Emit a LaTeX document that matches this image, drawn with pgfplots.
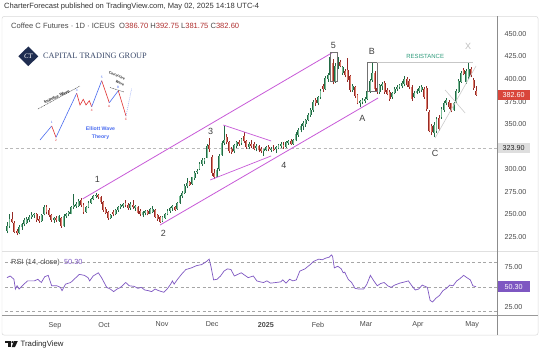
\documentclass[border=0pt]{standalone}
\usepackage{pgfplots}
\pgfplotsset{compat=1.18}
\usepackage{pgfplotstable}
\usepackage{fontspec}
\setmainfont{Liberation Sans}
\newfontfamily\serifcap{Liberation Serif}
\definecolor{upd}{HTML}{226B45}
\definecolor{upl}{HTML}{7CBE98}
\definecolor{dnd}{HTML}{962A26}
\definecolor{dnl}{HTML}{E0806F}
\definecolor{chan}{HTML}{C85AD8}
\definecolor{rsic}{HTML}{7E57C2}
\definecolor{txt}{HTML}{4A4A4A}
\definecolor{navy}{HTML}{1F2D50}
\definecolor{ctg}{HTML}{3B4A6B}
\definecolor{resist}{HTML}{2F9C7C}
\definecolor{valred}{HTML}{B03030}
\definecolor{ewblue}{HTML}{4A6CF0}
\definecolor{ewred}{HTML}{E03030}
\definecolor{pricered}{HTML}{D9463B}
\pgfplotsset{
  colormap={udlight}{color(0)=(dnl) color(1)=(upl)},
  colormap={uddark}{color(0)=(dnd) color(1)=(upd)},
}
\pgfplotstableread{
i o h l c t
0 232 242 229 237 1
1 237 251 235 245 1
2 245 253 240 242 0
3 241 243 229 231 0
4 232 234 227 229 0
5 229 238 228 236 1
6 236 240 233 239 1
7 239 246 237 244 1
8 241 247 239 245 1
9 244 249 242 247 1
10 247 253 245 249 1
11 249 252 246 250 1
12 251 252 242 244 0
13 245 248 241 243 0
14 243 250 242 249 1
15 250 261 249 258 1
16 258 261 250 253 0
17 255 257 247 249 0
18 249 251 242 244 0
19 244 247 241 246 1
20 246 248 242 244 0
21 243 249 242 248 1
22 246 247 235 237 0
23 237 250 236 248 1
24 248 252 246 251 1
25 250 254 248 253 1
26 251 259 250 258 1
27 258 273 256 261 1
28 259 264 257 262 1
29 259 267 258 265 1
30 266 268 258 260 0
31 260 263 251 253 0
32 253 259 252 258 1
33 258 265 257 263 1
34 263 268 262 267 1
35 267 272 266 270 1
36 270 274 268 272 1
37 272 273 267 269 0
38 269 270 262 264 0
39 264 265 253 255 0
40 256 258 250 252 0
41 253 254 244 246 0
42 246 251 245 249 1
43 253 255 248 250 0
44 250 256 249 255 1
45 255 259 253 258 1
46 258 262 256 261 1
47 259 263 257 262 1
48 263 266 258 260 0
49 260 263 255 257 0
50 257 264 255 262 1
51 261 266 256 258 0
52 257 260 254 259 1
53 258 259 251 252 0
54 254 256 248 250 0
55 249 254 247 253 1
56 252 255 249 254 1
57 254 255 249 250 0
58 251 257 250 256 1
59 253 259 252 256 1
60 255 256 246 247 0
61 249 250 243 245 0
62 247 248 241 242 0
63 243 248 242 247 1
64 246 252 245 251 1
65 251 256 249 254 1
66 254 258 252 257 1
67 257 260 254 259 1
68 258 259 254 255 0
69 256 264 255 263 1
70 263 271 262 270 1
71 270 276 268 274 1
72 274 284 273 282 1
73 282 290 279 285 1
74 286 287 282 283 0
75 284 292 283 291 1
76 290 298 288 296 1
77 297 300 295 298 1
78 300 308 299 306 1
79 306 312 304 310 1
80 309 313 306 311 1
81 313 328 312 326 1
82 327 335 319 322 0
83 314 316 293 296 0
84 296 300 289 292 0
85 292 301 291 299 1
86 300 317 298 315 1
87 316 331 315 329 1
88 329 348 327 332 1
89 336 339 328 330 0
90 330 331 318 320 0
91 322 325 317 319 0
92 320 328 318 327 1
93 326 331 324 330 1
94 330 333 326 328 0
95 329 335 327 334 1
96 337 341 329 331 0
97 331 333 323 325 0
98 325 330 322 328 1
99 328 332 324 326 0
100 328 330 321 323 0
101 324 328 320 326 1
102 326 327 319 321 0
103 323 325 318 320 0
104 320 323 315 322 1
105 321 326 320 325 1
106 325 327 320 322 0
107 322 325 319 323 1
108 323 327 320 321 0
109 322 326 318 325 1
110 324 328 322 327 1
111 326 330 324 328 1
112 327 330 323 325 0
113 325 331 324 330 1
114 329 333 327 331 1
115 331 334 327 328 0
116 328 334 327 333 1
117 332 341 331 339 1
118 338 346 336 344 1
119 344 350 341 348 1
120 348 353 344 351 1
121 350 356 347 355 1
122 355 362 353 360 1
123 360 368 358 366 1
124 366 377 364 375 1
125 377 379 370 373 0
126 373 381 371 380 1
127 380 389 378 387 1
128 392 394 386 389 0
129 389 403 388 401 1
130 400 407 397 404 1
131 404 430 402 424 1
132 418 422 394 397 0
133 398 418 396 414 1
134 413 425 411 419 1
135 419 421 413 415 0
136 407 414 405 413 1
137 409 411 402 404 0
138 410 423 397 399 0
139 403 405 386 388 0
140 388 394 386 392 1
141 391 392 379 381 0
142 382 384 372 374 0
143 374 377 369 376 1
144 375 379 372 377 1
145 376 380 373 378 1
146 378 388 377 387 1
147 386 400 385 398 1
148 399 418 397 407 1
149 407 409 386 389 0
150 390 392 384 386 0
151 386 395 384 393 1
152 392 397 388 395 1
153 396 398 384 386 0
154 388 390 382 384 0
155 386 388 376 378 0
156 380 386 378 385 1
157 385 391 383 389 1
158 389 393 387 391 1
159 391 395 389 393 1
160 392 398 390 396 1
161 395 403 392 400 1
162 400 402 391 393 0
163 398 400 389 391 0
164 391 393 376 378 0
165 380 387 379 385 1
166 385 389 383 387 1
167 387 392 385 390 1
168 388 393 386 391 1
169 389 391 378 380 0
170 390 392 365 367 0
171 364 366 341 343 0
172 348 350 338 341 0
173 340 352 336 349 1
174 342 358 340 356 1
175 357 360 343 345 0
176 358 369 356 367 1
177 366 376 364 374 1
178 373 379 371 377 1
179 375 377 367 369 0
180 373 374 363 365 0
181 366 375 365 373 1
182 375 389 374 387 1
183 386 400 385 398 1
184 397 409 396 407 1
185 410 412 404 406 0
186 397 411 395 409 1
187 402 419 400 411 1
188 411 413 402 404 0
189 399 401 388 390 0
190 386.70 392.75 381.75 382.60 0
}\ohlc
\begin{document}
\begin{tikzpicture}
\fill[white] (0,0) rectangle (540bp,357bp);
\path[use as bounding box] (0,0) rectangle (540bp,357bp);
% ---------------- main price panel
\begin{axis}[
  at={(5bp,106bp)}, anchor=south west, scale only axis,
  width=492bp, height=234bp,
  xmin=-0.81, xmax=198.5, ymin=209.5, ymax=468.8,
  axis line style={draw=none}, tick style={draw=none},
  major tick length=0pt,
  xtick=\empty,
  ytick={225,250,275,300,350,375,400,425,450},
  yticklabel pos=right,
  yticklabel style={font=\fontsize{7.2}{8}\selectfont, text=txt, anchor=west, xshift=4bp},
  y tick label style={/pgf/number format/.cd, fixed, fixed zerofill, precision=2, assume math mode=true},
  point meta min=0, point meta max=1,
  clip mode=individual,
]
\addplot[gray!55, line width=0.5bp, dash pattern=on 3bp off 2.5bp, forget plot] coordinates {(-1,323.9) (198.5,323.9)};
% wicks
\addplot[mark=none, colormap name=uddark, point meta=\thisrow{t},
  quiver={u=0, v=\thisrow{h}-\thisrow{l},
    every arrow/.append style={draw=mapped color, line width=0.5bp, -}}]
  table[x=i, y=l] {\ohlc};
% bodies (dark edge)
\addplot[mark=none, colormap name=uddark, point meta=\thisrow{t},
  quiver={u=0, v={abs(\thisrow{c}-\thisrow{o})},
    every arrow/.append style={draw=mapped color, line width=1.9bp, -}}]
  table[x=i, y expr={min(\thisrow{o},\thisrow{c})}] {\ohlc};
% bodies (light core)
\addplot[mark=none, colormap name=udlight, point meta=\thisrow{t},
  quiver={u=0, v={abs(\thisrow{c}-\thisrow{o})},
    every arrow/.append style={draw=mapped color, line width=0.7bp, -}}]
  table[x=i, y expr={min(\thisrow{o},\thisrow{c})}] {\ohlc};
% channel and triangle
\addplot[chan, line width=0.8bp] coordinates {(30.7,267.3) (131.7,429.2)};
\addplot[chan, line width=0.8bp] coordinates {(62.0,238.3) (150.3,379.0)};
\addplot[chan, line width=0.7bp] coordinates {(87.6,349.1) (107,331.4)};
\addplot[chan, line width=0.7bp] coordinates {(82.3,288.2) (107,314.8)};
% boxes, resistance, gray lines
\addplot[black!55, line width=0.5bp] coordinates {(130.9,397.1) (133.9,397.1) (133.9,429.3) (130.9,429.3) (130.9,397.1)};
\addplot[black!55, line width=0.5bp] coordinates {(145.9,386) (149.9,386) (149.9,419) (145.9,419) (145.9,386)};
\addplot[black!22, line width=0.6bp] coordinates {(149.9,418.4) (188.8,418.4)};
\addplot[black!20, line width=0.6bp] coordinates {(173.4,334.7) (190,414.5)};
\addplot[black!20, line width=0.6bp] coordinates {(177.5,387.9) (185.6,362.4)};
% wave labels
\begin{scope}[every node/.style={font=\fontsize{9}{10}\selectfont, text=black!75}]
\node at (axis cs:132.2,437.8) {5};
\node at (axis cs:147.8,430.4) {B};
\node at (axis cs:144.0,356.6) {A};
\node at (axis cs:173.4,317.7) {C};
\node at (axis cs:82.5,341.7) {3};
\node at (axis cs:112.2,304.5) {4};
\node at (axis cs:36.6,288.9) {1};
\node at (axis cs:63.3,229.1) {2};
\end{scope}
\node[font=\fontsize{6}{7}\selectfont, text=resist] at (axis cs:169.4,425.6) {RESISTANCE};
\node[font=\fontsize{9}{10}\selectfont, text=black!25] at (axis cs:186.8,436.5) {X};
% price boxes
\node[anchor=west, fill=pricered, text=white, inner sep=0pt, minimum height=10.5bp, minimum width=33bp, font=\fontsize{7.2}{8}\selectfont] at (axis cs:198.5,382.6) {382.60};
\node[anchor=west, fill=black!13, text=black!85, inner sep=0pt, minimum height=10.5bp, minimum width=33bp, font=\fontsize{7.2}{8}\selectfont] at (axis cs:198.5,323.9) {323.90};
\end{axis}
% ---------------- RSI panel
\begin{axis}[
  at={(5bp,42bp)}, anchor=south west, scale only axis,
  width=492bp, height=64bp,
  xmin=-0.81, xmax=198.5, ymin=15.5, ymax=94.3,
  axis line style={draw=none}, tick style={draw=none},
  major tick length=0pt,
  xtick={19.4,39.3,62.8,83.1,104.9,126,145.5,166.5,188.4},
  xticklabels={Sep,Oct,Nov,Dec,\textbf{2025},Feb,Mar,Apr,May},
  xticklabel style={font=\fontsize{7.2}{8}\selectfont, text=txt, yshift=-3.5bp},
  ytick={25,75},
  yticklabel pos=right,
  yticklabel style={font=\fontsize{7.2}{8}\selectfont, text=txt, anchor=west, xshift=4bp},
  y tick label style={/pgf/number format/.cd, fixed, fixed zerofill, precision=2, assume math mode=true},
  clip mode=individual,
]
\addplot[gray!70, line width=0.5bp, dash pattern=on 3bp off 2.5bp, forget plot] coordinates {(-1,80) (198.5,80)};
\addplot[gray!70, line width=0.5bp, dash pattern=on 3bp off 2.5bp, forget plot] coordinates {(-1,50) (198.5,50)};
\addplot[gray!70, line width=0.5bp, dash pattern=on 3bp off 2.5bp, forget plot] coordinates {(-1,20) (198.5,20)};
\addplot[rsic, line width=0.7bp] coordinates {
(0,61.5)(1.3,63.5)(2.8,59.5)(3.4,47.5)(4.1,51.5)(4.9,47.5)(6.2,51.5)(8.3,57.5)(11.1,57.5)(12.5,59.5)
(13.9,55.5)(15.3,62.7)(16.7,64.3)(18.1,51.5)(20.2,51.5)(21.6,49.5)(22.3,45.5)(23.7,53.5)(25.8,55.5)(27.2,59.5)
(29.3,65.5)(31.4,64.3)(32.8,61.5)(33.5,57.5)(34.9,63.5)(37,67.5)(38.3,61.5)(39,57.5)(40.4,49.5)(41.8,47.5)
(43.2,44.3)(44.6,47.5)(46,49.5)(48.1,55.5)(49.5,51.5)(51.6,50.7)(53,48.3)(54.4,49.5)(55.8,46.3)(57.2,45.5)
(58.6,44.3)(60,47.5)(61.4,45.5)(63.5,43.5)(64.9,47.5)(66.3,53.5)(67,57.5)(67.7,53.5)(69.1,59.5)(71.2,67.5)
(72.5,71.5)(74.7,73.5)(76.8,76.3)(78.8,77.5)(80.9,81.5)(81.9,84.3)(82.6,75.5)(83.7,58.7)(85.1,59.5)(86.5,63.5)
(87.9,69.5)(89.3,72.3)(90.7,71.5)(92.1,63.5)(93.5,65.5)(94.9,67.5)(96.4,64.3)(97.7,61.5)(99.8,63.5)(101.2,57.5)
(102.6,56.3)(103.9,55.5)(105.3,57.5)(106.8,54.7)(108.9,55.5)(110.9,56.3)(111.7,58.7)(113,54.7)(114.5,59.5)(115.8,57.5)
(117.2,58.7)(118.6,69.5)(120.7,72.3)(122.8,77.5)(124.2,81.5)(126.3,84.3)(127.7,83.5)(129.1,85.5)(130.5,86.7)(131.5,89.5)
(131.9,87.5)(132.6,73.5)(134,75.5)(135.4,72.3)(136.2,67.5)(136.8,68.3)(138.2,59.5)(139.6,55.5)(141,48.3)(142.4,47.5)
(144.5,47.5)(145.8,53.5)(147.2,64.3)(148.6,57.5)(150,51.5)(151.4,54.3)(152.8,55.5)(154.2,51.5)(155.6,49.5)(157,52.3)
(159.1,54.7)(161.2,56.3)(162.6,57.5)(164,51.5)(165.4,46.3)(166.8,47.5)(168.2,52.3)(170.3,49.5)(171.4,33.5)(172.4,31.5)
(173.8,36.3)(175.2,39.5)(176.6,45.5)(178,48.3)(179.4,52.3)(180.7,51.5)(182.2,57.5)(183.5,60.3)(185,64.3)(186.3,61.5)
(187.7,58.7)(188.7,51.5)(190,50.3)};
\node[anchor=west, fill=rsic, text=white, inner sep=0pt, minimum height=10.5bp, minimum width=33bp, font=\fontsize{7.2}{8}\selectfont] at (axis cs:198.5,50.3) {50.30};
\end{axis}
% ---------------- overlay in image pixel coordinates
\begin{axis}[
  at={(0bp,0bp)}, anchor=south west, scale only axis,
  width=540bp, height=357bp,
  xmin=0, xmax=540, ymin=0, ymax=357, y dir=reverse,
  hide axis, clip=false,
]
\draw[black!15, line width=0.5bp, rounded corners=2bp] (2,16.5) rectangle (538,335);
\draw[black!12, line width=0.6bp] (2,251) -- (538,251);
\draw[black!40, line width=0.6bp] (2,315.5) -- (538,315.5);
\draw[black!45, line width=0.6bp] (497,16.5) -- (497,335);
% header
\node[anchor=west, font=\fontsize{7.6}{9}\selectfont, text=black!80, inner sep=0pt] at (4,7) {CharterForecast published on TradingView.com, May 02, 2025 14:18 UTC-4};
\node[anchor=west, font=\fontsize{7.6}{9}\selectfont, text=txt, inner sep=0pt] at (11,25.5) {Coffee C Futures · 1D · ICEUS\ \ O\textcolor{valred}{386.70}\ H\textcolor{valred}{392.75}\ L\textcolor{valred}{381.75}\ C\textcolor{valred}{382.60}};
\node[anchor=west, font=\fontsize{7.4}{9}\selectfont, text=txt, inner sep=0pt] at (11,263) {RSI (14, close)\ \ \textcolor{rsic}{50.30}};
% logo
\fill[navy] (28.3,46.5) -- (38.3,56.3) -- (28.3,66.1) -- (18.3,56.3) -- cycle;
\node[font=\serifcap\itshape\fontsize{7}{8}\selectfont, text=white] at (28.3,56.3) {CT};
\node[anchor=west, font=\serifcap\fontsize{8.3}{9}\selectfont, text=ctg, inner sep=0pt] at (43,56.3) {CAPITAL TRADING GROUP};
% Elliott wave inset
\addplot[ewblue, line width=0.6bp] coordinates {(40,140) (51.7,126)};
\addplot[ewred, line width=0.6bp] coordinates {(51.7,126) (56,137.3)};
\addplot[ewblue, line width=0.6bp] coordinates {(56,137.3) (76.7,93.3)};
\addplot[ewred, line width=0.6bp] coordinates {(76.7,93.3) (80,105) (83.3,99.3) (86,105) (89.3,100.7) (91.7,106.7)};
\addplot[ewblue, line width=0.6bp] coordinates {(91.7,106.7) (101.7,80.7)};
\addplot[ewred, line width=0.6bp] coordinates {(101.7,80.7) (109.3,102.7)};
\addplot[ewblue, line width=0.6bp] coordinates {(109.3,102.7) (118.3,90.7)};
\addplot[ewred, line width=0.6bp] coordinates {(118.3,90.7) (126,116)};
\addplot[ewblue!60, line width=0.5bp, dash pattern=on 1bp off 1bp] coordinates {(126,116) (131.7,88.3)};
\addplot[black!80, line width=0.4bp, dash pattern=on 1bp off 0.7bp] coordinates {(38,109) (80,86)};
\addplot[black!80, line width=0.4bp, dash pattern=on 1bp off 0.7bp] coordinates {(110,87.5) (124,92)};
\begin{scope}[every node/.style={font=\fontsize{3.2}{4}\selectfont, inner sep=0pt}]
\node[text=ewblue] at (51.7,122.5) {1};
\node[text=ewred] at (56,140.5) {2};
\node[text=ewblue] at (76.7,90) {3};
\node[text=ewred] at (91.7,110) {4};
\node[text=ewblue] at (101.7,77.5) {5};
\node[text=ewred] at (109.3,106) {A};
\node[text=ewblue] at (118.3,87.5) {B};
\node[text=ewred] at (126,119.5) {C};
\end{scope}
\node[rotate=25, font=\fontsize{4.2}{5}\selectfont\bfseries, text=black!85, inner sep=0pt] at (57,97) {Impulse Wave};
\node[rotate=-22, font=\fontsize{3.5}{4}\selectfont\bfseries, text=black!85, inner sep=0pt] at (117,75.5) {Corrective};
\node[rotate=-22, font=\fontsize{3.5}{4}\selectfont\bfseries, text=black!85, inner sep=0pt] at (120,83) {Wave};
\node[font=\fontsize{5.2}{6}\selectfont\bfseries, text=ewblue, inner sep=0pt] at (100.5,129) {Elliott Wave};
\node[font=\fontsize{5.2}{6}\selectfont\bfseries, text=ewblue, inner sep=0pt] at (100.5,137) {Theory};
% TradingView logo
\fill[black!90] (5,341) rectangle (10.5,343.3);
\fill[black!90] (7.6,341) rectangle (10.5,347.2);
\fill[black!90] (12.3,342.1) circle (1.1bp);
\fill[black!90] (13.8,341) -- (17.8,341) -- (14.9,347.2) -- (11.7,347.2) -- cycle;
\node[anchor=west, font=\fontsize{7.8}{9}\selectfont, text=black!85, inner sep=0pt] at (20.5,344.2) {TradingView};
\end{axis}
\end{tikzpicture}
\end{document}
